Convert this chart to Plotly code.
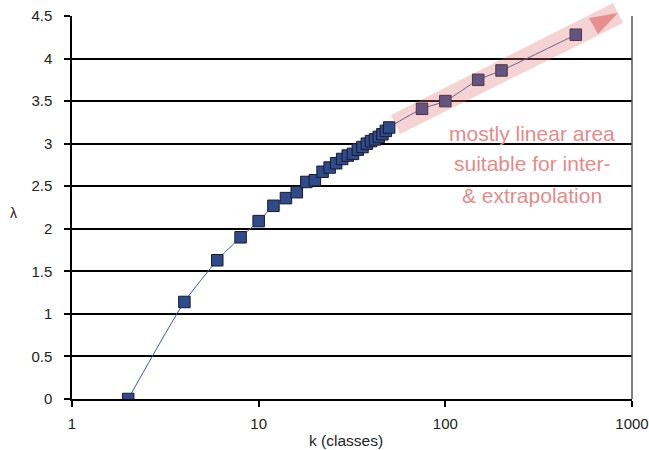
import plotly.graph_objects as go

k_values = [2, 4, 6, 8, 10, 12, 14, 16, 18, 20, 22, 24, 26, 28, 30, 32, 34, 36, 38, 40,
            42, 44, 46, 48, 50, 75, 100, 150, 200, 500]
lam_values = [0.0, 1.14, 1.63, 1.90, 2.09, 2.27, 2.36, 2.43, 2.55, 2.57, 2.67, 2.72, 2.77,
              2.82, 2.86, 2.88, 2.93, 2.96, 3.00, 3.03, 3.05, 3.08, 3.11, 3.15, 3.19,
              3.41, 3.50, 3.75, 3.86, 4.28]
x_tick_vals = [1, 10, 100, 1000]
x_tick_text = ["1", "10", "100", "1000"]
y_tick_vals = [0, 0.5, 1, 1.5, 2, 2.5, 3, 3.5, 4, 4.5]
y_tick_text = ["0", "0.5", "1", "1.5", "2", "2.5", "3", "3.5", "4", "4.5"]
note_lines = ["mostly linear area", "suitable for inter-", "&amp; extrapolation"]

W, H = 649, 450
L, R, T, B = 72, 17, 16, 51
pw, ph = W - L - R, H - T - B
FONT = "Liberation Sans, Arial"


def px(x, y):
    return (x - L) / pw, 1 - (y - T) / ph


def path(points):
    s = ""
    for i, (x, y) in enumerate(points):
        u, v = px(x, y)
        s += ("M" if i == 0 else "L") + f"{u:.4f},{v:.4f} "
    return s + "Z"


fig = go.Figure()
fig.add_trace(go.Scatter(
    x=k_values, y=lam_values, mode="lines+markers",
    line=dict(color="#3A5BA8", width=1, shape="spline", smoothing=0.6),
    marker=dict(symbol="square", size=11.5, color="#2E4B8C",
                line=dict(color="#1A1A2A", width=1)),
    showlegend=False,
))

shapes = [
    dict(type="path", xref="paper", yref="paper",
         path=path([(391, 115), (613, 3), (623, 23), (400, 134)]),
         fillcolor="rgb(222,110,110)", opacity=0.3, line=dict(width=0), layer="above"),
    dict(type="path", xref="paper", yref="paper",
         path=path([(589, 18), (618, 13), (598, 34)]),
         fillcolor="rgb(226,120,120)", opacity=0.75, line=dict(width=0), layer="above"),
    dict(type="line", xref="paper", yref="paper", x0=1, x1=1, y0=0, y1=1,
         line=dict(color="#555555", width=1.5)),
]

annotations = []
for i, line in enumerate(note_lines):
    annotations.append(dict(
        text=line, xref="paper", yref="paper",
        x=px(532, 0)[0], y=px(0, 133 + 31 * i)[1], showarrow=False,
        xanchor="center", yanchor="middle",
        font=dict(family=FONT, size=21, color="#E68A8A")))
annotations += [
    dict(text="λ", xref="paper", yref="paper", x=px(14, 0)[0], y=px(0, 213)[1],
         showarrow=False, xanchor="center", yanchor="middle",
         font=dict(family=FONT, size=14, color="#222222")),
    dict(text="k (classes)", xref="paper", yref="paper", x=px(345.5, 0)[0], y=px(0, 440)[1],
         showarrow=False, xanchor="center", yanchor="middle",
         font=dict(family=FONT, size=15.5, color="#222222")),
]

fig.update_layout(
    width=W, height=H, margin=dict(l=L, r=R, t=T, b=B, autoexpand=False),
    paper_bgcolor="white", plot_bgcolor="white",
    font=dict(family=FONT, size=15, color="#222222"),
    shapes=shapes, annotations=annotations,
    xaxis=dict(type="log", range=[0, 3], tickvals=x_tick_vals, ticktext=x_tick_text,
               automargin=False,
               showgrid=False, zeroline=False, showline=True, linecolor="black", linewidth=1.5,
               ticks="outside", ticklen=6, tickwidth=1.5, tickcolor="black",
               ticklabelstandoff=4),
    yaxis=dict(range=[0, 4.5], tickvals=y_tick_vals, ticktext=y_tick_text,
               automargin=False,
               showgrid=True, gridcolor="black", gridwidth=1.5, zeroline=False,
               showline=True, linecolor="black", linewidth=1.5,
               ticks="outside", ticklen=6, tickwidth=1.5, tickcolor="black",
               ticklabelstandoff=9),
)

fig.write_html("out.html")
